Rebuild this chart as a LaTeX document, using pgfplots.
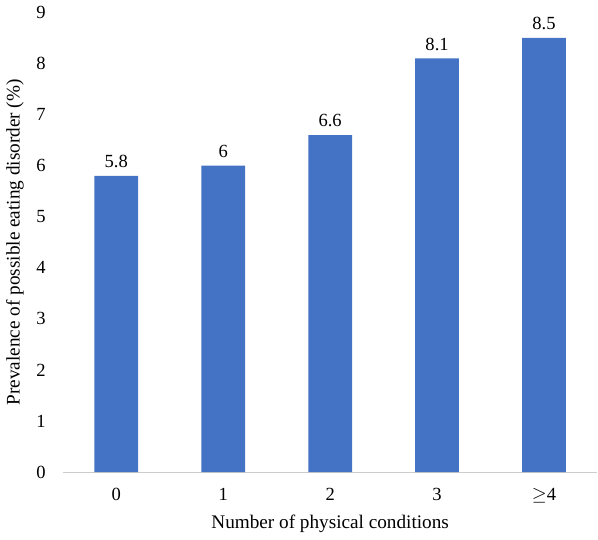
\documentclass[border=0pt]{standalone}
\usepackage{fontspec}
\setmainfont{Liberation Serif}
\usepackage{pgfplots}
\pgfplotsset{compat=1.18}
\definecolor{barblue}{RGB}{68,114,196}
\begin{document}
\fontsize{14}{16}\selectfont
\begin{tikzpicture}
\begin{axis}[
  scale only axis,
  width=403.5pt, height=347pt,
  xmin=-0.5, xmax=4.5, ymin=0, ymax=9,
  ytick={0,1,...,9},
  xtick=data,
  xticklabels={0,1,2,3,$\geq$4},
  /pgf/number format/assume math mode=true,
  axis x line*=bottom,
  axis y line*=left,
  x axis line style={draw=black!20, line width=0.8pt, -},
  y axis line style={draw=none, -},
  major tick length=0pt,
  tick style={draw=none},
  ticklabel style={font=\fontsize{14}{16}\selectfont},
  label style={font=\fontsize{14.5}{16}\selectfont},
  ylabel={Prevalence of possible eating disorder (\%)},
  xlabel={Number of physical conditions},
  yticklabel style={xshift=-8pt},
  ylabel style={yshift=0pt},
  xticklabel style={yshift=-7pt},
  xlabel style={yshift=0pt},
  ybar, bar width=33pt,
  nodes near coords,
  nodes near coords style={font=\fontsize{14}{16}\selectfont, yshift=1pt},
  point meta=explicit symbolic,
  clip=false,
]
\addplot[fill=barblue, draw=none] coordinates {
  (0,5.8) [5.8]
  (1,6.0) [6]
  (2,6.6) [6.6]
  (3,8.1) [8.1]
  (4,8.5) [8.5]
};
\end{axis}
\end{tikzpicture}
\end{document}
